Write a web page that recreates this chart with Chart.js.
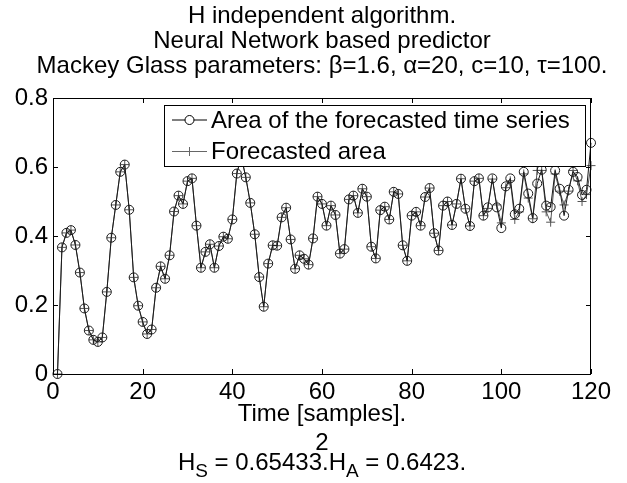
<!DOCTYPE html>
<html><head><meta charset="utf-8">
<script src="https://cdn.jsdelivr.net/npm/chart.js@4"></script>
<style>html,body{margin:0;padding:0;background:#fff}canvas{display:block}</style>
</head><body>
<canvas id="c" width="627" height="483"></canvas>
<script>
const samples = [1,2,3,4,5,6,7,8,9,10,11,12,13,14,15,16,17,18,19,20,
21,22,23,24,25,26,27,28,29,30,31,32,33,34,35,36,37,38,39,40,
41,42,43,44,45,46,47,48,49,50,51,52,53,54,55,56,57,58,59,60,
61,62,63,64,65,66,67,68,69,70,71,72,73,74,75,76,77,78,79,80,
81,82,83,84,85,86,87,88,89,90,91,92,93,94,95,96,97,98,99,100,
101,102,103,104,105,106,107,108,109,110,111,112,113,114,115,116,117,118,119,120];

const areaSeries = [0.000,0.367,0.409,0.417,0.374,0.294,0.190,0.126,0.099,0.093,
0.106,0.238,0.395,0.490,0.586,0.607,0.476,0.280,0.198,0.151,
0.116,0.129,0.250,0.312,0.276,0.344,0.471,0.517,0.493,0.559,
0.567,0.430,0.308,0.354,0.376,0.308,0.371,0.398,0.392,0.448,
0.581,0.630,0.570,0.496,0.405,0.281,0.195,0.320,0.373,0.372,
0.454,0.482,0.390,0.305,0.344,0.334,0.317,0.393,0.514,0.493,
0.430,0.488,0.461,0.349,0.362,0.506,0.517,0.467,0.537,0.514,
0.369,0.335,0.475,0.485,0.448,0.528,0.522,0.373,0.328,0.459,
0.470,0.430,0.513,0.539,0.408,0.358,0.488,0.500,0.432,0.493,
0.566,0.479,0.429,0.559,0.567,0.459,0.483,0.567,0.483,0.423,
0.544,0.567,0.463,0.479,0.586,0.523,0.452,0.552,0.592,0.488,
0.484,0.590,0.537,0.459,0.534,0.586,0.571,0.519,0.534,0.670];

const forecastSeries = [0.000,0.367,0.409,0.417,0.374,0.294,0.190,0.126,0.099,0.093,
0.106,0.238,0.395,0.490,0.586,0.607,0.476,0.280,0.198,0.151,
0.116,0.129,0.250,0.312,0.276,0.344,0.471,0.517,0.493,0.559,
0.567,0.430,0.308,0.354,0.376,0.308,0.371,0.398,0.392,0.448,
0.581,0.630,0.570,0.496,0.405,0.281,0.195,0.320,0.373,0.372,
0.454,0.482,0.390,0.305,0.344,0.334,0.317,0.393,0.514,0.493,
0.430,0.488,0.461,0.349,0.362,0.506,0.517,0.467,0.537,0.514,
0.369,0.335,0.475,0.485,0.448,0.528,0.522,0.373,0.328,0.459,
0.470,0.430,0.513,0.539,0.408,0.358,0.488,0.500,0.432,0.493,
0.566,0.479,0.429,0.559,0.567,0.459,0.480,0.565,0.490,0.438,
0.540,0.560,0.448,0.470,0.580,0.510,0.450,0.590,0.590,0.470,
0.440,0.580,0.530,0.490,0.530,0.590,0.560,0.500,0.520,0.604];

const xTicks = [0,20,40,60,80,100,120];
const yTicks = [0,0.2,0.4,0.6,0.8];

const titleLines = ['H independent algorithm.','Neural Network based predictor','Mackey Glass parameters: \u03b2=1.6, \u03b1=20, c=10, \u03c4=100.'];
const xLabel = 'Time [samples].';
const legendLabels = ['Area of the forecasted time series','Forecasted area'];

const FONT = '"Liberation Sans", Arial, sans-serif';

const toXY = (ys) => samples.map((x, i) => ({x: x, y: ys[i]}));

const framePlugin = {
  id: 'frame',
  afterDraw(chart) {
    const {ctx, chartArea: a, scales: {x, y}} = chart;
    ctx.save();
    ctx.strokeStyle = '#000';
    ctx.lineWidth = 1;
    // ticks inside
    ctx.beginPath();
    const tl = 5;
    xTicks.forEach(v => {
      const px = Math.round(x.getPixelForValue(v)) + 0.5;
      ctx.moveTo(px, a.bottom); ctx.lineTo(px, a.bottom - tl);
      ctx.moveTo(px, a.top); ctx.lineTo(px, a.top + tl);
    });
    yTicks.forEach(v => {
      const py = Math.round(y.getPixelForValue(v)) + 0.5;
      ctx.moveTo(a.left, py); ctx.lineTo(a.left + tl, py);
      ctx.moveTo(a.right, py); ctx.lineTo(a.right - tl, py);
    });
    ctx.stroke();
    // legend
    const lx = 164.5, ly = 105.5, lw = 421, lh = 61;
    ctx.fillStyle = '#fff';
    ctx.fillRect(lx, ly, lw, lh);
    ctx.strokeRect(lx, ly, lw, lh);
    const rows = [120, 151.5];
    ctx.font = '24px ' + FONT;
    ctx.textBaseline = 'middle';
    ctx.textAlign = 'left';
    // row 1
    ctx.strokeStyle = '#000';
    ctx.beginPath(); ctx.moveTo(172, rows[0]); ctx.lineTo(207, rows[0]); ctx.stroke();
    ctx.beginPath(); ctx.arc(189.5, rows[0], 4.5, 0, Math.PI * 2); ctx.fillStyle = '#fff'; ctx.fill(); ctx.stroke();
    // row 2
    ctx.strokeStyle = '#666';
    ctx.beginPath(); ctx.moveTo(172, rows[1]); ctx.lineTo(207, rows[1]); ctx.stroke();
    ctx.beginPath(); ctx.moveTo(189.5, rows[1] - 4.5); ctx.lineTo(189.5, rows[1] + 4.5); ctx.stroke();
    ctx.fillStyle = '#000';
    ctx.fillText(legendLabels[0], 211, rows[0] + 1);
    ctx.fillText(legendLabels[1], 211, rows[1] + 1);
    // axes box
    ctx.strokeStyle = '#000';
    ctx.strokeRect(a.left + 0.5, a.top + 0.5, a.right - a.left - 1, a.bottom - a.top);
    // titles
    const cx = (a.left + a.right) / 2;
    ctx.textAlign = 'center';
    ctx.fillStyle = '#000';
    ctx.font = '24px ' + FONT;
    const ty = [16, 41, 66];
    titleLines.forEach((t, i) => ctx.fillText(t, cx, ty[i]));
    ctx.fillText(xLabel, cx, 414);
    ctx.fillText('2', cx, 443);
    // H_S = 0.65433.H_A = 0.6423.
    const parts = [['H', 0], ['S', 1], [' = 0.65433.H', 0], ['A', 1], [' = 0.6423.', 0]];
    const mainF = '24px ' + FONT, subF = '19px ' + FONT;
    let total = 0;
    parts.forEach(p => { ctx.font = p[1] ? subF : mainF; total += ctx.measureText(p[0]).width; });
    let sx = cx - total / 2;
    ctx.textAlign = 'left';
    parts.forEach(p => {
      ctx.font = p[1] ? subF : mainF;
      ctx.fillText(p[0], sx, p[1] ? 472 : 463);
      sx += ctx.measureText(p[0]).width;
    });
    ctx.restore();
  }
};

new Chart(document.getElementById('c'), {
  type: 'line',
  data: {
    datasets: [
      {
        label: legendLabels[0],
        data: toXY(areaSeries),
        borderColor: '#1a1a1a',
        borderWidth: 1,
        pointStyle: 'circle',
        pointRadius: 4.5,
        pointBorderWidth: 1,
        pointBorderColor: '#1a1a1a',
        pointBackgroundColor: 'rgba(0,0,0,0)',
        fill: false,
        tension: 0,
        clip: false
      },
      {
        label: legendLabels[1],
        data: toXY(forecastSeries),
        borderColor: '#555',
        borderWidth: 1,
        pointStyle: 'cross',
        pointRadius: 4.5,
        pointBorderWidth: 1,
        pointBorderColor: '#555',
        fill: false,
        tension: 0,
        clip: false
      }
    ]
  },
  options: {
    responsive: false,
    animation: false,
    events: [],
    layout: {padding: {top: 98, right: 36, left: 0, bottom: 0}},
    plugins: {legend: {display: false}, title: {display: false}, tooltip: {enabled: false}},
    scales: {
      x: {
        type: 'linear', min: 0, max: 120,
        afterFit(s) { s.height = 109; },
        afterBuildTicks(s) { s.ticks = xTicks.map(v => ({value: v})); },
        grid: {display: false, drawTicks: false},
        border: {display: false},
        ticks: {color: '#000', font: {family: FONT, size: 24}, padding: 4, maxRotation: 0, autoSkip: false}
      },
      y: {
        type: 'linear', min: 0, max: 0.8,
        afterFit(s) { s.width = 53; },
        afterBuildTicks(s) { s.ticks = yTicks.map(v => ({value: v})); },
        grid: {display: false, drawTicks: false},
        border: {display: false},
        ticks: {color: '#000', font: {family: FONT, size: 24}, padding: 5, callback: v => String(+v.toFixed(1))}
      }
    }
  },
  plugins: [framePlugin]
});
</script>
</body></html>
